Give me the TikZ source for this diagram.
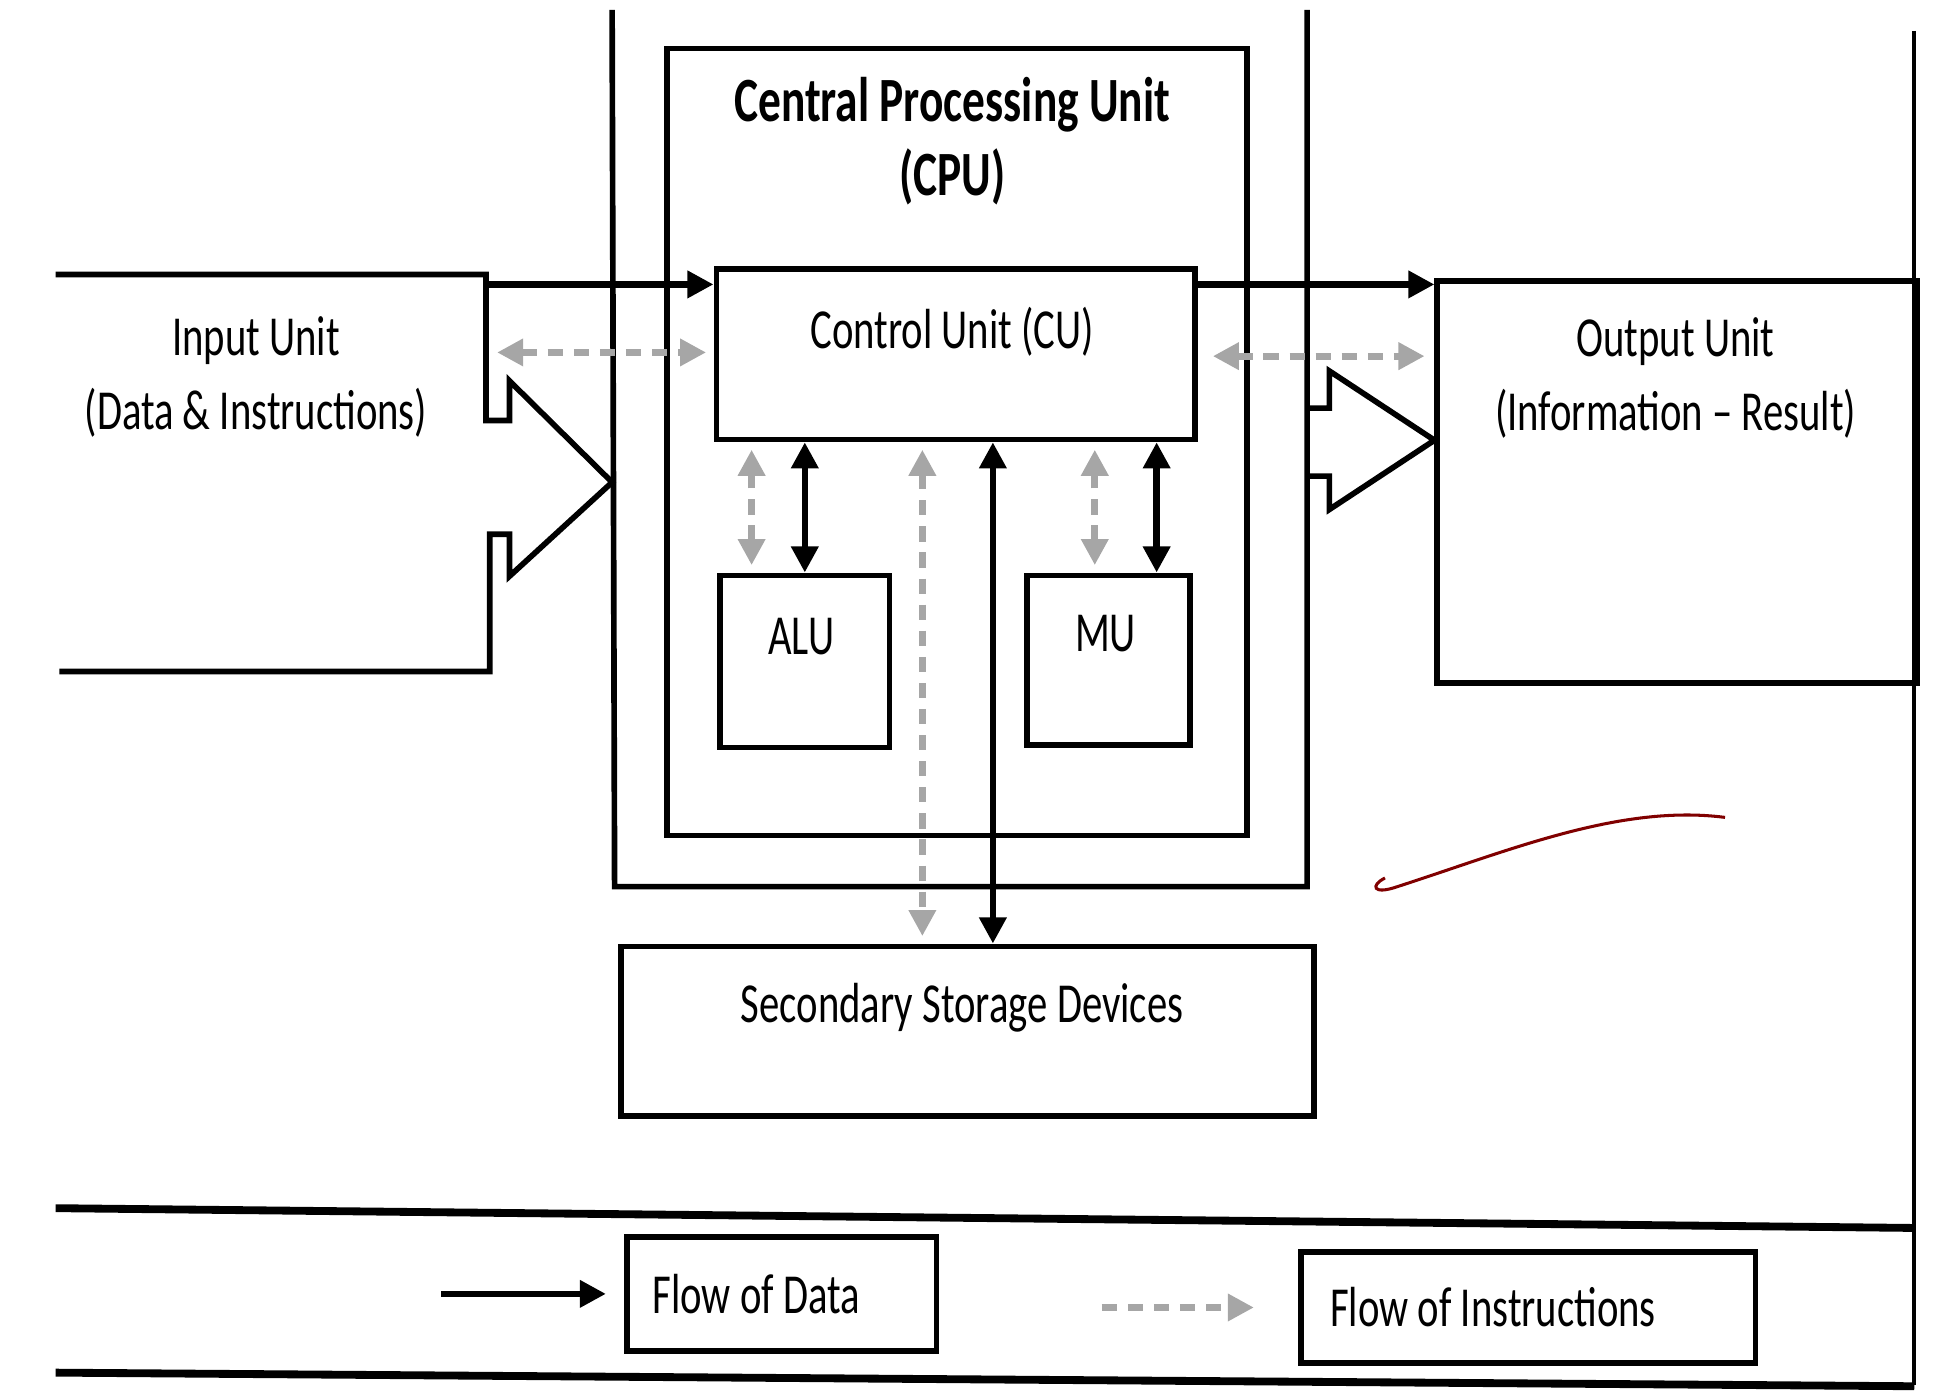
\documentclass[tikz,border=0pt]{standalone}
\usepackage{fontspec}
\newfontfamily\diagfont[FakeStretch=0.72]{Carlito}
\usetikzlibrary{arrows.meta,positioning}

\tikzset{
  box/.style={draw, line width=1.3pt, inner sep=0pt, anchor=north west},
  lbl/.style={font=\diagfont\fontsize{13}{17}\selectfont, align=center, inner sep=0pt},
  data/.style={line width=1.5pt},
  instr/.style={draw=black!35, line width=1.6pt, dash pattern=on 3.5pt off 2.5pt, shorten <=0.06cm, shorten >=0.06cm},
}

\begin{document}
\begin{tikzpicture}[x=0.01cm, y=-0.01cm, >={Triangle[length=6pt,width=6pt]}]
\useasboundingbox (0,0) rectangle (1568,1130);
% tint along the top edge of the sheet
\shade[top color=white, middle color=red!20, bottom color=white] (0,8) rectangle (1568,95);

% outer frame and CPU
\draw[line width=1.3pt] (495,8) -- (497,717) -- (1057,717) -- (1057,8);
\node[box, minimum width=4.69cm, minimum height=6.36cm] (cpu) at (537,37) {};
\node[lbl, font=\diagfont\bfseries\fontsize{14.5}{17}\selectfont] (cputitle) at (770,114) {Central Processing Unit\\(CPU)};

\node[box, minimum width=3.87cm, minimum height=1.38cm] (cu) at (577,215) {};
\node[lbl] (cutext) at (770,268) {Control Unit (CU)};
\node[box, minimum width=1.37cm, minimum height=1.39cm] (alu) at (580,463) {};
\node[lbl] (alutext) at (648,515) {ALU};
\node[box, minimum width=1.32cm, minimum height=1.37cm] (mu) at (828,463) {};
\node[lbl] (mutext) at (894,512) {MU};

\node[box, minimum width=5.6cm, minimum height=1.37cm] (store) at (500,763) {};
\node[lbl] (storetext) at (778,815) {Secondary Storage Devices};

% input unit with its block arrow
\draw[line width=1.3pt] (45,222) -- (393,222) -- (393,340) -- (412,340) -- (412,308) -- (495,390)
  -- (412,466) -- (412,432) -- (396,432) -- (396,543) -- (48,543);
\node[lbl] (intext) at (207,305) {Input Unit\\(Data \& Instructions)};

% output unit with its block arrow
\node[box, minimum width=3.88cm, minimum height=3.25cm] (outu) at (1160,225) {};
\draw[line width=1.3pt] (1057,330) -- (1075,330) -- (1075,300) -- (1160,356) -- (1075,412) -- (1075,385) -- (1057,385);
\node[lbl] (outtext) at (1355,306) {Output Unit\\(Information – Result)};
\draw[line width=1pt] (1548,25) -- (1548,1120);

% flows in and out of the control unit
\coordinate (indata) at (393,230);
\coordinate (ininstr) at (396,285);
\draw[data, ->] (indata) -- (indata -| cu.west);
\draw[instr, <->] (ininstr) -- (ininstr -| cu.west);
\coordinate (outdata) at (outu.west |- indata);
\coordinate (outinstr) at (1158,288);
\draw[data, ->] (indata -| cu.east) -- (outdata);
\draw[instr, <->] ([xshift=0.06cm]outinstr -| cu.east) -- (outinstr);

% CU <-> ALU, MU
\draw[instr, <->] ([xshift=-0.43cm]alu.north) -- ([xshift=-0.43cm]alu.north |- cu.south);
\draw[data, <->] (alu.north) -- (alu.north |- cu.south);
\draw[instr, <->] ([xshift=-0.11cm]mu.north) -- ([xshift=-0.11cm]mu.north |- cu.south);
\draw[data, <->] ([xshift=0.39cm]mu.north) -- ([xshift=0.39cm]mu.north |- cu.south);

% CU <-> storage
\draw[instr, <->] ([xshift=-0.27cm]cu.south) -- ([xshift=-0.27cm]cu.south |- store.north);
\draw[data, <->] ([xshift=0.3cm]cu.south) -- ([xshift=0.3cm]cu.south |- store.north);

% pen mark
\draw[red!50!black, line width=0.7pt] (1120,710) .. controls (1108,716) and (1110,724) .. (1130,717)
  .. controls (1220,688) and (1310,650) .. (1395,661);

% legend
\draw[line width=1.8pt] (45,977) -- (1548,993);
\draw[line width=1.8pt] (45,1110) -- (1548,1121);
\node[box, minimum width=2.5cm, minimum height=0.92cm] (fdata) at (505,998) {};
\node[lbl, right=0.22cm of fdata.west] (fdatatext) {Flow of Data};
\coordinate[left=1.48cm of fdata.west] (ldata);
\draw[data, ->] (ldata) -- ([xshift=-0.15cm]fdata.west);
\node[box, minimum width=3.67cm, minimum height=0.9cm] (finstr) at (1050,1010) {};
\node[lbl, right=0.25cm of finstr.west] (finstrtext) {Flow of Instructions};
\coordinate[left=1.65cm of finstr.west] (linstr);
\draw[instr, ->] (linstr) -- ([xshift=-0.3cm]finstr.west);
\end{tikzpicture}
\end{document}
